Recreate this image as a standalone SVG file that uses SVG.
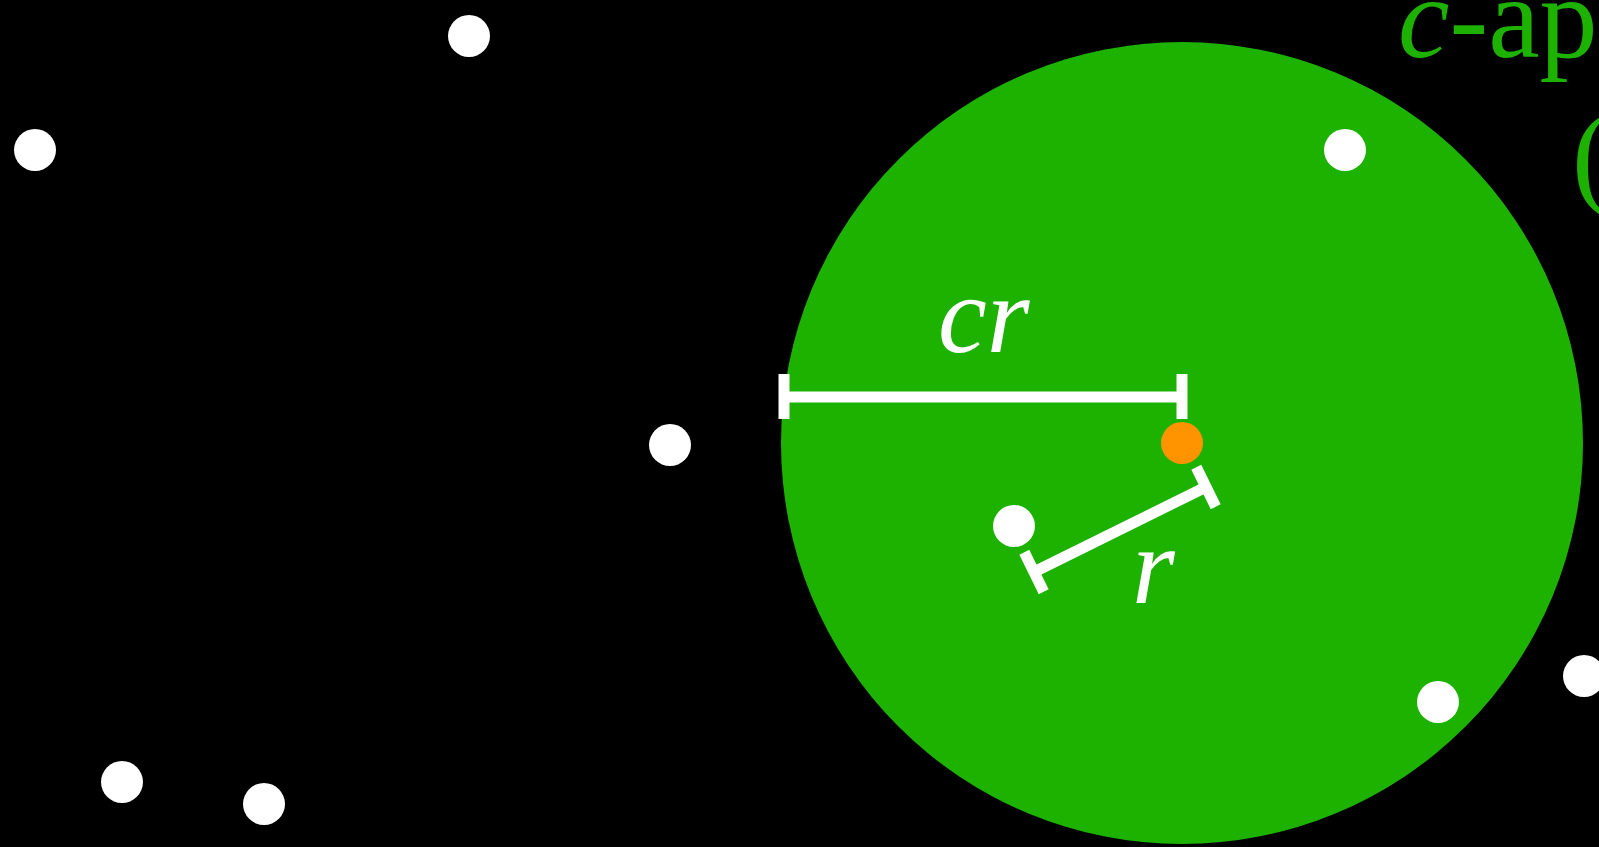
<svg xmlns="http://www.w3.org/2000/svg" width="1599" height="847" viewBox="0 0 1599 847">
<style>
.pt{fill:#ffffff}
.bar{stroke:#ffffff;stroke-width:11;fill:none}
.lbl{font-family:"Liberation Serif",serif;font-size:110px}
.ttl{font-family:"Liberation Serif",serif;font-size:116px;fill:#1db100}
.math{font-style:italic}
</style>
<rect width="1599" height="847" fill="#000000"/>
<g id="ball">
<circle cx="1182" cy="443" r="401" fill="#1db100"/>
</g>
<g id="title">
<text class="ttl" x="1398" y="57"><tspan class="math">c</tspan>-ap</text>
<text class="ttl" x="1572" y="194">(</text>
</g>
<g id="points">
<circle class="pt" cx="469" cy="36" r="21"/>
<circle class="pt" cx="35" cy="150" r="21"/>
<circle class="pt" cx="1345" cy="150" r="21"/>
<circle class="pt" cx="670" cy="445" r="21"/>
<circle class="pt" cx="1014" cy="526" r="21"/>
<circle class="pt" cx="1438" cy="702" r="21"/>
<circle class="pt" cx="1584" cy="676" r="21"/>
<circle class="pt" cx="122" cy="782" r="21"/>
<circle class="pt" cx="264" cy="804" r="21"/>
</g>
<g id="query">
<circle cx="1182" cy="443" r="21" fill="#ff9300"/>
</g>
<g id="connectors">
<g id="cr-bar">
<line class="bar" x1="784" y1="397" x2="1182" y2="397"/>
<line class="bar" x1="784" y1="374" x2="784" y2="419"/>
<line class="bar" x1="1182" y1="374" x2="1182" y2="419"/>
</g>
<g id="r-bar">
<line class="bar" x1="1034" y1="572" x2="1206" y2="487"/>
<line class="bar" x1="1024.3" y1="552.3" x2="1043.7" y2="591.7"/>
<line class="bar" x1="1196.3" y1="467.3" x2="1215.7" y2="506.7"/>
</g>
</g>
<g id="labels">
<text class="lbl math" x="938" y="352" fill="#ffffff">cr</text>
<text class="lbl math" x="1132" y="603" fill="#ffffff">r</text>
</g>
</svg>
